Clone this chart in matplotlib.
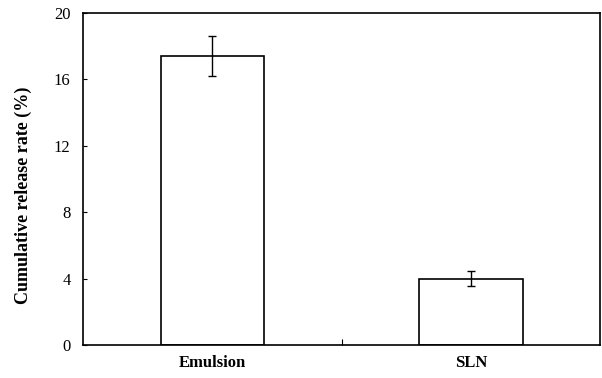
import matplotlib.pyplot as plt

# values
categories = ["Emulsion", "SLN"]
release_rate = [17.4, 4.0]
release_err = [1.2, 0.45]
y_ticks = [0, 4, 8, 12, 16, 20]


def main():
    plt.rcParams["font.family"] = ["Liberation Serif", "DejaVu Serif"]
    fig = plt.figure(figsize=(6.02, 3.78), dpi=100)
    ax = fig.add_axes([0.138, 0.087, 0.859, 0.879])

    pos = list(range(len(categories)))
    ax.bar(pos, release_rate, width=0.4, color="white", edgecolor="black",
           linewidth=1.2, yerr=release_err,
           error_kw=dict(ecolor="black", elinewidth=1.0, capsize=3, capthick=1.0))

    ax.set_xlim(-0.5, 1.5)
    ax.set_ylim(0, 20)
    ax.set_yticks(y_ticks)
    ax.set_yticklabels([str(t) for t in y_ticks], fontsize=12)
    ax.tick_params(axis="y", direction="in", length=3, pad=9)

    # category labels without ticks, one tick between the groups
    ax.set_xticks([0.5])
    ax.set_xticklabels([""])
    ax.tick_params(axis="x", direction="in", length=4)
    for p, name in zip(pos, categories):
        ax.text(p, -0.055, name, transform=ax.get_xaxis_transform(),
                ha="center", va="center", fontsize=12, fontweight="bold")

    ax.set_ylabel("Cumulative release rate (%)", fontsize=13, fontweight="bold")
    ax.yaxis.set_label_coords(-0.098, 0.45)
    for s in ax.spines.values():
        s.set_linewidth(1.2)

    fig.savefig("out.png", dpi=100)


if __name__ == "__main__":
    main()
